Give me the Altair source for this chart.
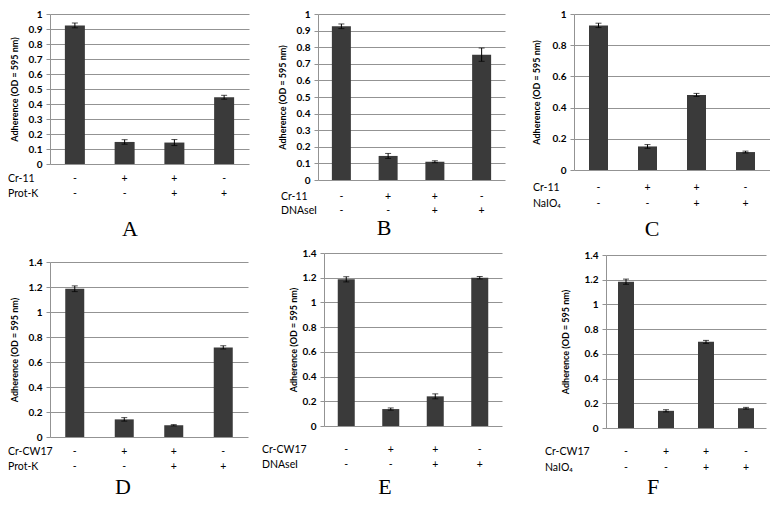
import altair as alt
import pandas as pd

# ---- data ----
cats = ["c1", "c2", "c3", "c4"]
strain_signs = ["-", "+", "+", "-"]
treat_signs = ["-", "-", "+", "+"]

a_vals = [0.924, 0.147, 0.143, 0.445]
a_errs = [0.016, 0.015, 0.020, 0.013]
b_vals = [0.926, 0.145, 0.110, 0.755]
b_errs = [0.014, 0.015, 0.006, 0.040]
c_vals = [0.927, 0.151, 0.481, 0.115]
c_errs = [0.014, 0.012, 0.010, 0.006]
d_vals = [1.186, 0.141, 0.094, 0.717]
d_errs = [0.023, 0.014, 0.005, 0.013]
e_vals = [1.187, 0.137, 0.240, 1.200]
e_errs = [0.021, 0.009, 0.020, 0.010]
f_vals = [1.184, 0.139, 0.697, 0.160]
f_errs = [0.021, 0.009, 0.012, 0.007]

ticks_a = [0, 0.1, 0.2, 0.3, 0.4, 0.5, 0.6, 0.7, 0.8, 0.9, 1]
ticks_c = [0, 0.2, 0.4, 0.6, 0.8, 1]
ticks_d = [0, 0.2, 0.4, 0.6, 0.8, 1, 1.2, 1.4]

YTITLE = "Adherence (OD = 595 nm)"
SANS = "Lato"
SERIF = "Liberation Serif"
BAR = "#3a3a3a"
GRID = "#939393"


def panel(vals, errs, strain, treat, letter, ticks, ymax, W, H, top, bw,
          row_dy, letter_y, name_x, title_x, letter_x, left_ext, bottom_ext):
    df = pd.DataFrame({
        "cat": cats,
        "val": vals,
        "lo": [v - e for v, e in zip(vals, errs)],
        "hi": [v + e for v, e in zip(vals, errs)],
        "s1": strain_signs,
        "s2": treat_signs,
    })
    x = alt.X("cat:N", sort=cats, axis=None,
              scale=alt.Scale(paddingInner=0.6, paddingOuter=0.3))
    yscale = alt.Scale(domain=[0, ymax], range=[H, top], nice=False, zero=True)
    yaxis = alt.Axis(values=ticks, format="~g", grid=True, gridColor=GRID,
                     gridWidth=1, domainColor=GRID, tickColor=GRID, tickSize=4,
                     labelFont=SANS, labelFontWeight="bold", labelFontSize=10,
                     labelColor="black", labelPadding=4, title=YTITLE,
                     titleFont=SANS, titleFontSize=9, titleFontWeight="bold",
                     titleColor="black", titleX=title_x)

    def yenc(field):
        return alt.Y(field, scale=yscale, axis=yaxis, title=YTITLE)

    base = alt.Chart(df)
    bars = base.mark_bar(color=BAR, size=bw).encode(x=x, y=yenc("val:Q"))
    err = base.mark_rule(color="black", strokeWidth=1).encode(
        x=x, y=yenc("lo:Q"), y2="hi:Q")
    cap_lo = base.mark_tick(color="black", size=6, thickness=1).encode(
        x=x, y=yenc("lo:Q"))
    cap_hi = base.mark_tick(color="black", size=6, thickness=1).encode(
        x=x, y=yenc("hi:Q"))
    s1 = base.mark_text(font=SANS, fontSize=10.5, baseline="middle", color="black").encode(
        x=x, y=alt.value(H + row_dy[0]), text="s1:N")
    s2 = base.mark_text(font=SANS, fontSize=10.5, baseline="middle", color="black").encode(
        x=x, y=alt.value(H + row_dy[1]), text="s2:N")
    n1 = alt.Chart(pd.DataFrame({"t": [strain]})).mark_text(
        font=SANS, fontSize=10.5, align="left", baseline="middle", color="black").encode(
        x=alt.value(name_x), y=alt.value(H + row_dy[0]), text="t:N")
    n2 = alt.Chart(pd.DataFrame({"t": [treat]})).mark_text(
        font=SANS, fontSize=10.5, align="left", baseline="middle", color="black").encode(
        x=alt.value(name_x), y=alt.value(H + row_dy[1]), text="t:N")
    let = alt.Chart(pd.DataFrame({"t": [letter]})).mark_text(
        font=SERIF, fontSize=22, align="center", baseline="alphabetic", color="black").encode(
        x=alt.value(letter_x), y=alt.value(letter_y), text="t:N")
    # invisible frame that fixes the panel's extent for the layout
    frame = alt.Chart(pd.DataFrame({"t": [letter]})).mark_rule(opacity=0).encode(
        x=alt.value(-left_ext), x2=alt.value(-left_ext),
        y=alt.value(-6), y2=alt.value(bottom_ext))
    return alt.layer(bars, err, cap_lo, cap_hi, s1, s2, n1, n2, let, frame).properties(
        width=W, height=H)


# row 1 (cells: top bound -6, bottom bound 228)
A = panel(a_vals, a_errs, "Cr-11", "Prot-K", "A", ticks_a, 1, 199, 150, 0, 20,
          (15, 30), 222, -42, -31, 80, 42, 228)
B = panel(b_vals, b_errs, "Cr-11", "DNAseI", "B", ticks_a, 1, 187, 166, 0, 19,
          (17, 31), 221, -37, -31, 66, 59, 228)
C = panel(c_vals, c_errs, "Cr-11", "NaIO\u2084", "C", ticks_c, 1, 196, 156, 0, 19,
          (18, 34), 222, -41, -33, 78, 59, 228)
# row 2 (cells: top bound -6, bottom bound 245)
D = panel(d_vals, d_errs, "Cr-CW17", "Prot-K", "D", ticks_d, 1.4, 198, 184, 9, 19,
          (15, 30), 241, -42, -31, 73, 42, 245)
E = panel(e_vals, e_errs, "Cr-CW17", "DNAseI", "E", ticks_d, 1.4, 178, 173, 0, 17,
          (24, 39), 241, -62, -26, 61, 66, 245)
F = panel(f_vals, f_errs, "Cr-CW17", "NaIO\u2084", "F", ticks_d, 1.4, 160, 175, 2, 16,
          (24, 40), 241, -61, -36, 47, 94, 245)

row1 = alt.hconcat(A, B, C, spacing=10)
row2 = alt.hconcat(D, E, F, spacing=10)
chart = alt.vconcat(row1, row2, spacing=5).properties(
    padding=0, background="white").configure_view(stroke=None)

chart.save("out.html", embed_options={"renderer": "svg", "actions": False})
